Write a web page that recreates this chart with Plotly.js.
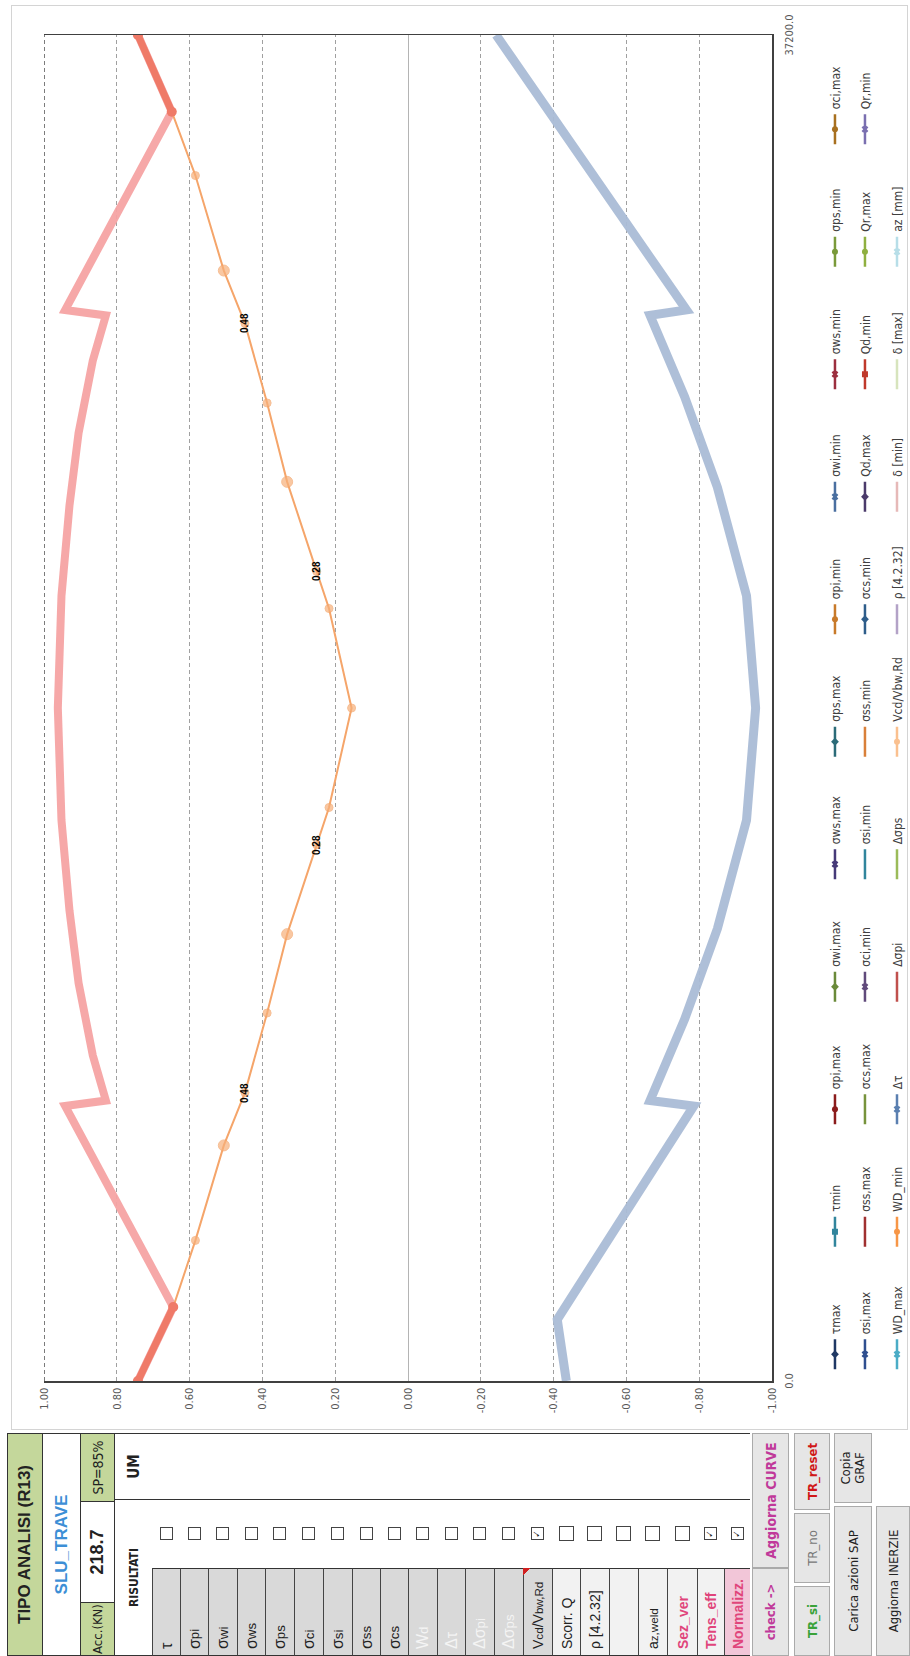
<!DOCTYPE html>
<html><head><meta charset="utf-8">
<script src="https://cdn.plot.ly/plotly-3.0.1.min.js"></script>
<style>
html,body{margin:0;padding:0;background:#fff;width:910px;height:1656px;overflow:hidden;}
#wrap{position:absolute;left:0;top:0;width:1656px;height:910px;transform-origin:0 0;transform:translateY(1656px) rotate(-90deg);background:#fff;font-family:"Liberation Sans Narrow","DejaVu Sans Condensed","Liberation Sans",sans-serif;}
#frame{position:absolute;left:226px;top:11px;width:1425px;height:897px;border:1px solid #d4d4d4;box-sizing:border-box;}
#chart{position:absolute;left:226px;top:11px;width:1425px;height:897px;}
.c{position:absolute;box-sizing:border-box;display:flex;align-items:center;justify-content:center;text-align:center;white-space:nowrap;color:#222;}
.cb{width:13px;height:13px;border:1.5px solid #444;box-sizing:border-box;font-size:10px;line-height:10px;font-weight:bold;}
</style></head>
<body>
<div id="wrap">
  <div id="frame"></div>
  <div id="chart"></div>
  <div id="panel"></div>
</div>
<script>
// ---------------- DATA ----------------
const posPink = [0, 2045, 7600, 7750, 9000, 11000, 13000, 15500, 18600, 21700, 24200, 26200, 28200, 29450, 29600, 35080, 37200];
const valPink = [0.742, 0.645, 0.942, 0.83, 0.866, 0.905, 0.93, 0.952, 0.962, 0.952, 0.93, 0.905, 0.866, 0.83, 0.942, 0.649, 0.742];

const posEnds = [0, 2045, null, 35080, 37200];
const valEnds = [0.742, 0.645, null, 0.649, 0.742];

const posBlue = [0, 1700, 7600, 7750, 10000, 12500, 15500, 18600, 21700, 24700, 27200, 29450, 29600, 37200];
const valBlue = [-0.435, -0.41, -0.785, -0.665, -0.76, -0.85, -0.93, -0.955, -0.93, -0.85, -0.76, -0.665, -0.765, -0.242];

const posVcd = [0, 2045, 3886, 6511, 7970, 10170, 12350, 14825, 15850, 18600, 21350, 22375, 24850, 27030, 29230, 30690, 33315, 35080, 37200];
const valVcd = [0.742, 0.645, 0.584, 0.506, 0.448, 0.387, 0.332, 0.251, 0.217, 0.155, 0.217, 0.251, 0.332, 0.387, 0.448, 0.506, 0.584, 0.649, 0.742];
const vcdBigIdx = [3, 6, 12, 15];

const labelIdx = [4, 7, 11, 14];
const labelTxt = ["0.48", "0.28", "0.28", "0.48"];

const yTickVals = [1, 0.8, 0.6, 0.4, 0.2, 0, -0.2, -0.4, -0.6, -0.8, -1];
const yTickText = ["1.00","0.80","0.60","0.40","0.20","0.00","-0.20","-0.40","-0.60","-0.80","-1.00"];
const xTickVals = [0, 37200];
const xTickText = ["0.0", "37200.0"];

const legendRow1 = ["τmax","τmin","σpi,max","σwi,max","σws,max","σps,max","σpi,min","σwi,min","σws,min","σps,min","σci,max"];
const legendRow2 = ["σsi,max","σss,max","σcs,max","σci,min","σsi,min","σss,min","σcs,min","Qd,max","Qd,min","Qr,max","Qr,min"];
const legendRow3 = ["WD_max","WD_min","Δτ","Δσpi","Δσps","Vcd/Vbw,Rd","ρ [4.2.32]","δ [min]","δ [max]","az [mm]"];

// ---------------- STYLES ----------------
const row1Style = [
 ["#1f3864","diamond",true],["#31859c","square",true],["#8b1c1c","circle",true],["#6a8a3a","diamond",true],
 ["#463a78","x",true],["#2b6b78","diamond",true],["#c87a2a","circle",true],["#4a6fa0","x",true],
 ["#9c2f3f","x",true],["#7a9a3a","circle",true],["#a8701f","circle",true]];
const row2Style = [
 ["#2f4f8f","x",true],["#a03030",null,false],["#77933c",null,false],["#604a7b","x",true],
 ["#31859c",null,false],["#d9803a",null,false],["#2e5d8a","diamond",true],["#4b3b6b","diamond",true],
 ["#c0392b","square",true],["#8fb040","circle",true],["#7a6fb0","x",true]];
const row3Style = [
 ["#4bacc6","x",true],["#f79646","circle",true],["#5a7fb0","x",true],["#c0504d",null,false],
 ["#9bbb59",null,false],["#fac08f","circle",true],["#b3a2c7",null,false],["#e6b9b8",null,false],
 ["#d7e4bd",null,false],["#b7dee8","x",true]];

const traces = [];
function addLegend(names, styles, lg){
  names.forEach((n,i)=>{
    const s = styles[i];
    traces.push({type:"scatter", x:[null], y:[null], name:n, legend:lg,
      mode: s[2] ? "lines+markers" : "lines",
      line:{color:s[0], width:2.5},
      marker:{color:s[0], symbol:s[1]||"circle", size:6},
      hoverinfo:"skip"});
  });
}
addLegend(legendRow1,row1Style,"legend");
addLegend(legendRow2,row2Style,"legend2");
addLegend(legendRow3,row3Style,"legend3");

traces.push({type:"scatter", x:posBlue, y:valBlue, mode:"lines", showlegend:false,
  line:{color:"#aabcd6", width:9}, opacity:0.95});
traces.push({type:"scatter", x:posPink, y:valPink, mode:"lines", showlegend:false,
  line:{color:"#f5a3a3", width:8}, opacity:0.95});
traces.push({type:"scatter", x:posVcd, y:valVcd, mode:"lines+markers", showlegend:false,
  line:{color:"#f5a56a", width:2},
  marker:{color:"#f7b07a", size:posVcd.map((_,i)=>vcdBigIdx.includes(i)?11:8)}});
traces.push({type:"scatter", x:posEnds, y:valEnds, mode:"lines+markers", showlegend:false,
  line:{color:"#ef7a68", width:7}, marker:{color:"#ef7a68", size:10}, connectgaps:false});

const annotations = labelIdx.map((k,i)=>({x:posVcd[k], y:valVcd[k], text:"<b>"+labelTxt[i]+"</b>",
  showarrow:false, font:{size:10, color:"#000", family:"Liberation Sans, Arial"}}));

const legendCommon = {orientation:"h", xanchor:"left", yanchor:"middle", x:0.005,
  entrywidth:77.5, entrywidthmode:"pixels", bgcolor:"rgba(0,0,0,0)",
  font:{family:"Liberation Sans Narrow, DejaVu Sans Condensed, Liberation Sans", size:12, color:"#404040"},
  itemclick:false, itemdoubleclick:false};

const layout = {
  width:1425, height:897,
  margin:{l:49, r:30, t:33, b:136, autoexpand:false},
  paper_bgcolor:"rgba(0,0,0,0)", plot_bgcolor:"#fff",
  showlegend:true,
  legend:Object.assign({}, legendCommon, {y:-0.0865}),
  legend2:Object.assign({}, legendCommon, {y:-0.1277}),
  legend3:Object.assign({}, legendCommon, {y:-0.1717}),
  xaxis:{range:[0,37200], tickvals:xTickVals, ticktext:xTickText, showgrid:false, zeroline:false,
    showline:true, linecolor:"#404040", linewidth:1.5, mirror:false, ticks:"", ticklabelstandoff:6,
    tickfont:{family:"Liberation Sans Narrow, DejaVu Sans Condensed", size:11, color:"#595959"}},
  yaxis:{range:[-1,1], tickvals:yTickVals, ticktext:yTickText, showgrid:true, gridcolor:"#a0a0a0",
    griddash:"4px,3px", gridwidth:1, zeroline:true, zerolinecolor:"#b4b4b4", zerolinewidth:1,
    showline:true, linecolor:"#404040", linewidth:1.5, mirror:true, ticks:"", ticklabelstandoff:3,
    tickfont:{family:"Liberation Sans Narrow, DejaVu Sans Condensed", size:11, color:"#595959"}},
  shapes:[{type:"line", xref:"paper", x0:0, x1:1, yref:"y", y0:1, y1:1, layer:"above",
    line:{color:"#505050", width:1.5, dash:"4px,3px"}}],
  annotations: annotations
};

Plotly.newPlot("chart", traces, layout, {staticPlot:true, displayModeBar:false});

// ---------------- PANEL (Excel side panel) ----------------
const panel = document.getElementById("panel");
function cell(x,y,w,h,html,st){
  const d=document.createElement("div"); d.className="c";
  d.style.left=x+"px"; d.style.top=y+"px"; d.style.width=w+"px"; d.style.height=h+"px";
  d.innerHTML=html; Object.assign(d.style, st||{}); panel.appendChild(d); return d;
}
const B="1.5px solid #333";
cell(0,7,223,36,"TIPO ANALISI (R13)",{background:"#c4d79b",border:B,fontWeight:"bold",fontSize:"17px",fontFamily:"Liberation Sans"});
cell(0,43,223,37,"SLU_TRAVE",{background:"#fff",borderLeft:B,borderRight:B,color:"#3d8fd6",fontWeight:"bold",fontSize:"17px",fontFamily:"Liberation Sans"});
cell(0,80,54,35,"Acc.(KN)",{background:"#c4d79b",border:B,fontSize:"13px"});
cell(54,80,100,35,"218.7",{background:"#fff",borderTop:B,borderBottom:B,fontWeight:"bold",fontSize:"18px",fontFamily:"Liberation Sans"});
cell(154,80,69,35,"SP=85%",{background:"#c4d79b",border:B,fontSize:"14px"});
cell(0,115,156,37,"RISULTATI",{background:"#fff",borderLeft:B,fontWeight:"bold",fontSize:"12px"});
cell(156,115,67,37,"UM",{background:"#fff",borderLeft:B,borderRight:B,fontWeight:"bold",fontSize:"15px"});

const items = [
 ["τ",0,"#d9d9d9","#222"],["σ<sub>pi</sub>",0,"#d9d9d9","#222"],["σ<sub>wi</sub>",0,"#d9d9d9","#222"],
 ["σ<sub>ws</sub>",0,"#d9d9d9","#222"],["σ<sub>ps</sub>",0,"#d9d9d9","#222"],["σ<sub>ci</sub>",0,"#d9d9d9","#222"],
 ["σ<sub>si</sub>",0,"#d9d9d9","#222"],["σ<sub>ss</sub>",0,"#d9d9d9","#222"],["σ<sub>cs</sub>",0,"#d9d9d9","#222"],
 ["W<sub>d</sub>",0,"#d9d9d9","#f4f4f4"],["Δτ",0,"#d9d9d9","#f4f4f4"],["Δσ<sub>pi</sub>",0,"#d9d9d9","#f4f4f4"],
 ["Δσ<sub>ps</sub>",0,"#d9d9d9","#f4f4f4"],["V<sub>cd</sub>/V<sub>bw,Rd</sub>",1,"#d9d9d9","#222"],
 ["Scorr. Q",0,"#f2f2f2","#222"],["ρ [4.2.32]",0,"#f2f2f2","#222"],["",0,"#f2f2f2","#222"],
 ["a<sub>z,weld</sub>",0,"#f2f2f2","#222"],["Sez_ver",0,"#f2f2f2","#e0457b"],["Tens_eff",1,"#f2f2f2","#e0457b"],
 ["Normalizz.",1,"#f2c6d8","#e0457b"]];
const rowY = [152,180,208,237,265,294,323,352,380,408,437,465,494,523,552,580,609,638,667,697,724];
const rowH = [28,28,29,28,29,29,29,28,28,29,28,29,29,29,28,29,29,29,30,27,26];
items.forEach((it,i)=>{
  const y=rowY[i], h=rowH[i];
  const big = i>=14 && i<=18;
  cell(0,y,88,h,it[0],{background:it[2],color:it[3],borderLeft:B,borderRight:B,borderTop:"1px solid #444",fontSize:(i>=13?"14px":"16px"),fontWeight:(i>=18?"bold":"normal"),justifyContent:"flex-start",paddingLeft:"6px",fontFamily:"Liberation Sans"});
  cell(88,y,68,h,'<div class="cb" style="'+(big?'width:15px;height:15px;':'')+'">'+(it[1]?"✓":"")+'</div>',{background:"#fff"});
});
cell(156,152,67,598,"",{borderLeft:B,borderRight:B});
// comment marker (red triangle) on the Vcd cell
cell(80,523,8,8,"",{background:"linear-gradient(45deg, transparent 50%, #d02020 50%)"});
// buttons
cell(0,752,88,37,"check -&gt;",{background:"#e6e6e6",border:"1px solid #aaa",color:"#c0399a",fontWeight:"bold",fontSize:"13px"});
cell(88,752,135,37,"Aggiorna CURVE",{background:"#e6e6e6",border:"1px solid #aaa",color:"#c0399a",fontWeight:"bold",fontSize:"14px"});
cell(0,794,70,36,"TR_si",{background:"#e6e6e6",border:"1px solid #aaa",color:"#3aa23a",fontWeight:"bold",fontSize:"13px"});
cell(73,794,70,36,"TR_no",{background:"#e6e6e6",border:"1px solid #aaa",color:"#777",fontSize:"13px"});
cell(146,794,77,36,"TR_reset",{background:"#e6e6e6",border:"1px solid #aaa",color:"#d01818",fontWeight:"bold",fontSize:"13px"});
cell(0,834,150,38,"Carica azioni SAP",{background:"#e6e6e6",border:"1px solid #aaa",fontSize:"13px"});
cell(153,834,70,38,"Copia<br>GRAF",{background:"#e6e6e6",border:"1px solid #aaa",fontSize:"13px",lineHeight:"14px"});
cell(0,876,150,34,"Aggiorna INERZIE",{background:"#e6e6e6",border:"1px solid #aaa",fontSize:"13px"});
</script>
</body></html>
